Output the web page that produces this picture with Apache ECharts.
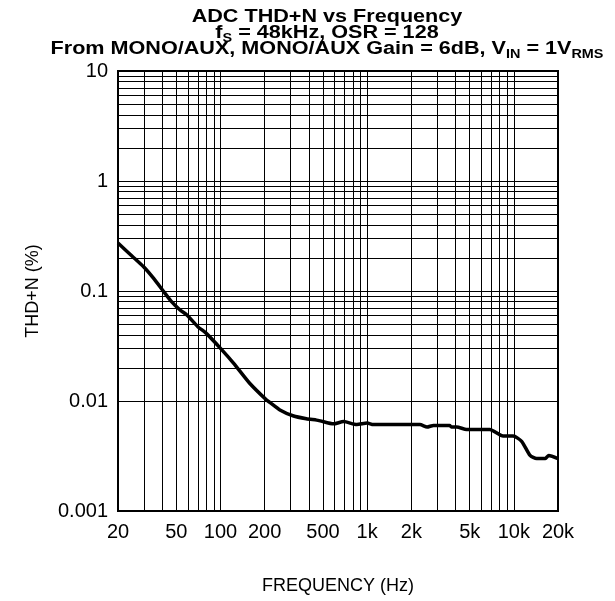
<!DOCTYPE html>
<html>
<head>
<meta charset="utf-8">
<script src="https://cdn.jsdelivr.net/npm/echarts@6/dist/echarts.min.js"></script>
<style>
html,body{margin:0;padding:0;background:#fff;}
#chart{width:615px;height:601px;}
</style>
</head>
<body>
<div id="chart"></div>
<script>
// Frequency (Hz)
const freq = [20, 25, 30, 35, 41, 46, 53, 59, 70, 80, 100, 123, 158, 206, 217, 254, 315, 385, 452, 478, 590, 690, 850, 1000, 1100, 1500, 2000, 2290, 2560, 2830, 3650, 3750, 4080, 4760, 6000, 6860, 8440, 9900, 11300, 12900, 14300, 16400, 17300, 20000];
// THD+N (%)
const thdn = [0.273, 0.207, 0.165, 0.13, 0.0987, 0.081, 0.0672, 0.0605, 0.0474, 0.0412, 0.0301, 0.022, 0.0145, 0.0102, 0.0097, 0.0083, 0.0073, 0.0069, 0.0067, 0.0066, 0.0062, 0.0065, 0.0061, 0.0063, 0.0061, 0.0061, 0.0061, 0.0061, 0.0058, 0.006, 0.006, 0.0058, 0.0058, 0.0055, 0.0055, 0.0055, 0.0048, 0.0048, 0.0043, 0.0032, 0.003, 0.003, 0.0032, 0.003];
// Tick labels
const xTicks = [20, 50, 100, 200, 500, 1000, 2000, 5000, 10000, 20000];
const xTickLabels = ['20', '50', '100', '200', '500', '1k', '2k', '5k', '10k', '20k'];
const yTicks = [0.001, 0.01, 0.1, 1, 10];
const yTickLabels = ['0.001', '0.01', '0.1', '1', '10'];
// Grid line values
const xGrid = [30, 40, 50, 60, 70, 80, 90, 100, 200, 300, 400, 500, 600, 700, 800, 900, 1000, 2000, 3000, 4000, 5000, 6000, 7000, 8000, 9000, 10000];
const yGrid = [0.002, 0.003, 0.004, 0.005, 0.006, 0.007, 0.008, 0.009, 0.01, 0.02, 0.03, 0.04, 0.05, 0.06, 0.07, 0.08, 0.09, 0.1, 0.2, 0.3, 0.4, 0.5, 0.6, 0.7, 0.8, 0.9, 1, 2, 3, 4, 5, 6, 7, 8, 9];
// Title lines
const titleLines = [
  '{t|ADC THD+N vs Frequency}',
  '{t|f}{s|S}{t| = 48kHz, OSR = 128}',
  '{t|From MONO/AUX, MONO/AUX Gain = 6dB, V}{s|IN}{t| = 1V}{s|RMS}'
];

const chart = echarts.init(document.getElementById('chart'), null, {renderer: 'canvas'});
const FONT = 'Liberation Sans, Arial, sans-serif';
const gridLines = [];
xGrid.forEach(v => gridLines.push({xAxis: v}));
yGrid.forEach(v => gridLines.push({yAxis: v}));

const titleY = [17.5, 33, 49];
const titleGraphics = titleLines.map((txt, i) => ({
  type: 'text',
  x: 327,
  y: titleY[i],
  scaleX: 1.2,
  style: {
    text: txt,
    align: 'center',
    verticalAlign: 'middle',
    fontFamily: FONT, fontWeight: 'bold', fontSize: 18, fill: '#000',
    rich: {
      t: {fontFamily: FONT, fontWeight: 'bold', fontSize: 18, fill: '#000', lineHeight: 18},
      s: {fontFamily: FONT, fontWeight: 'bold', fontSize: 12, fill: '#000', lineHeight: 10, padding: [12, 0, 0, 0]}
    }
  }
}));

chart.setOption({
  animation: false,
  backgroundColor: '#fff',
  graphic: titleGraphics,
  grid: {
    left: 118, right: 57, top: 71, bottom: 90,
    show: true, borderColor: '#000', borderWidth: 2
  },
  xAxis: {
    type: 'log',
    min: 20, max: 20000,
    name: 'FREQUENCY (Hz)',
    nameLocation: 'middle',
    nameGap: 66,
    nameTextStyle: {fontFamily: FONT, fontSize: 18, color: '#000'},
    axisLine: {show: true, lineStyle: {color: '#000', width: 2}},
    axisTick: {show: false},
    splitLine: {show: false},
    axisLabel: {
      customValues: xTicks,
      formatter: v => { const i = xTicks.findIndex(t => Math.abs(t - v) / t < 1e-6); return i >= 0 ? xTickLabels[i] : ''; },
      fontFamily: FONT, fontSize: 20, color: '#000', margin: 11
    }
  },
  yAxis: {
    type: 'log',
    min: 0.001, max: 10,
    name: 'THD+N (%)',
    nameLocation: 'middle',
    nameGap: 76,
    nameTextStyle: {fontFamily: FONT, fontSize: 18, color: '#000'},
    axisLine: {show: true, lineStyle: {color: '#000', width: 2}},
    axisTick: {show: false},
    splitLine: {show: false},
    axisLabel: {
      customValues: yTicks,
      formatter: v => { const i = yTicks.findIndex(t => Math.abs(t - v) / t < 1e-6); return i >= 0 ? yTickLabels[i] : ''; },
      fontFamily: FONT, fontSize: 20, color: '#000', margin: 10
    }
  },
  series: [{
    type: 'line',
    data: freq.map((f, i) => [f, thdn[i]]),
    showSymbol: false,
    smooth: 0.2,
    lineStyle: {color: '#000', width: 3.5},
    z: 5,
    markLine: {
      silent: true,
      symbol: 'none',
      label: {show: false},
      lineStyle: {color: '#000', width: 1, type: 'solid'},
      data: gridLines,
      z: 1
    }
  }]
});
</script>
</body>
</html>
